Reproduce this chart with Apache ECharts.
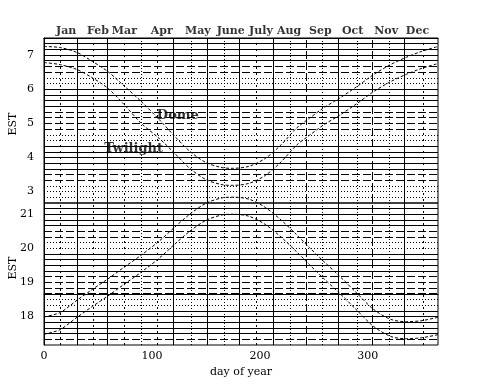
<!DOCTYPE html>
<html><head><meta charset="utf-8">
<script src="https://cdn.jsdelivr.net/npm/echarts@6/dist/echarts.min.js"></script>
<style>html,body{margin:0;padding:0;background:#fff}#c{width:480px;height:384px}</style>
</head><body><div id="c"></div>
<script>
// ---- data ----
const days = [0, 15, 31, 45, 59, 73, 90, 107, 121, 135, 150, 165, 175, 190, 205, 220, 234, 246, 259, 274, 290, 305, 321, 336, 350, 365];
// morning (EST hours)
const domeMorning = [7.25, 7.22, 7.07, 6.81, 6.52, 6.13, 5.64, 5.10, 4.62, 4.18, 3.85, 3.70, 3.68, 3.74, 3.97, 4.38, 4.86, 5.15, 5.45, 5.74, 6.08, 6.42, 6.72, 6.94, 7.11, 7.25];
const twilightMorning = [6.78, 6.72, 6.57, 6.33, 6.03, 5.59, 5.00, 4.55, 4.12, 3.68, 3.35, 3.20, 3.18, 3.24, 3.47, 3.88, 4.36, 4.65, 4.95, 5.24, 5.58, 5.92, 6.22, 6.44, 6.61, 6.75];
// evening (EST hours)
const twilightEvening = [17.99, 18.12, 18.49, 18.80, 19.10, 19.42, 19.80, 20.22, 20.62, 21.00, 21.32, 21.48, 21.50, 21.44, 21.20, 20.82, 20.40, 20.02, 19.62, 19.18, 18.68, 18.22, 17.92, 17.85, 17.88, 17.98];
const domeEvening = [17.48, 17.62, 17.99, 18.30, 18.60, 18.92, 19.30, 19.72, 20.12, 20.50, 20.82, 20.98, 21.00, 20.94, 20.70, 20.32, 19.90, 19.52, 19.12, 18.68, 18.18, 17.72, 17.42, 17.35, 17.38, 17.47];

const monthNames = ['Jan','Feb','Mar','Apr','May','June','July','Aug','Sep','Oct','Nov','Dec'];
const monthLabelDays = [20.5, 50, 74.5, 109, 142.5, 173, 201, 227, 256, 286, 317, 346];
const monthStartDays = [31, 59, 90, 120, 151, 181, 212, 243, 273, 304, 334];
const monthStartStyles = ['s','s','o','s','s','s','s','d','s','d','s'];
const midMonthDays = [15, 46, 74, 105, 136, 167, 197, 228, 258, 290, 320, 351];
const midMonthStyles = ['t','t','t','t','o','o','t','o','o','o','o','t'];
const morningTicks = [3, 4, 5, 6, 7];
const eveningTicks = [18, 19, 20, 21];
const dayTicks = [0, 100, 200, 300];
// horizontal 10-minute lines from 17:20 up to 21:20 (evening), then 2:50 up to 7:20 (morning)
// s=solid d=dashed o=dotted T=heavy
const hLineStyles = ('dsssssooddddssssooddssssT' + 'oooddsssssooddddssssooddssss').split('');

// ---- build ----
const EVE_MIN = 103/6, EVE_MAX = 157/6;
const MOR_MIN = -1.5, MOR_MAX = 7.5;
const FONT = 'DejaVu Serif';

function styleOf(c){
  if (c === 's') return {type:'solid', color:'#000', width:1};
  if (c === 'T') return {type:'solid', color:'#000', width:1.5};
  if (c === 'd') return {type:[8,3], color:'#000', width:1};
  if (c === 'o') return {type:[1,2], color:'#000', width:1};
  return {type:[2,4], color:'#000', width:1};
}
const hLines = [];
for (let k = 1; k <= hLineStyles.length; k++) {
  hLines.push({yAxis: EVE_MIN + k/6, lineStyle: styleOf(hLineStyles[k-1])});
}
const vLines = [];
monthStartDays.forEach((d,i)=>vLines.push({xAxis:d, lineStyle:styleOf(monthStartStyles[i])}));
midMonthDays.forEach((d,i)=>vLines.push({xAxis:d, lineStyle:styleOf(midMonthStyles[i])}));

const curveStyle = {color:'#000', width:1, type:[3,2]};
function pairs(ys){ return days.map((d,i)=>[d, ys[i]]); }

const chart = echarts.init(document.getElementById('c'), null, {renderer:'canvas'});
chart.setOption({
  animation:false,
  backgroundColor:'#fff',
  grid:{left:44, right:42, top:38, bottom:39, show:true, borderColor:'#000', borderWidth:1, backgroundColor:'transparent'},
  xAxis:[
    {type:'value', min:0, max:365, position:'bottom',
     axisLine:{show:true, lineStyle:{color:'#000'}},
     axisTick:{show:false},
     splitLine:{show:false},
     axisLabel:{customValues:dayTicks, color:'#000', fontFamily:FONT, fontSize:11, margin:6},
     name:'day of year', nameLocation:'middle', nameGap:19,
     nameTextStyle:{color:'#000', fontFamily:FONT, fontSize:11}},
    {type:'value', min:0, max:365, position:'top',
     axisLine:{show:true, lineStyle:{color:'#000'}}, axisTick:{show:false},
     splitLine:{show:false}, axisLabel:{show:false}}
  ],
  yAxis:[
    {type:'value', min:EVE_MIN, max:EVE_MAX, position:'left',
     axisLine:{show:true, lineStyle:{color:'#000'}}, axisTick:{show:false}, splitLine:{show:false},
     axisLabel:{customValues:eveningTicks, color:'#000', fontFamily:FONT, fontSize:11, margin:10}},
    {type:'value', min:MOR_MIN, max:MOR_MAX, position:'left',
     axisLine:{show:false}, axisTick:{show:false}, splitLine:{show:false},
     axisLabel:{customValues:morningTicks, color:'#000', fontFamily:FONT, fontSize:11, margin:10}}
  ],
  graphic:[
    {type:'text', x:13, y:124, rotation:Math.PI/2, style:{text:'EST', fill:'#000', font:'11px "DejaVu Serif"', textAlign:'center', textVerticalAlign:'middle'}},
    {type:'text', x:13, y:268, rotation:Math.PI/2, style:{text:'EST', fill:'#000', font:'11px "DejaVu Serif"', textAlign:'center', textVerticalAlign:'middle'}}
  ],
  series:[
    {type:'line', xAxisIndex:0, yAxisIndex:0, data:pairs(twilightEvening), smooth:0.3, symbol:'none', lineStyle:curveStyle, silent:true, z:3,
     markLine:{silent:true, symbol:'none', label:{show:false}, data:hLines.concat(vLines), z:1}},
    {type:'line', xAxisIndex:0, yAxisIndex:0, data:pairs(domeEvening), smooth:0.3, symbol:'none', lineStyle:curveStyle, silent:true, z:3},
    {type:'line', xAxisIndex:0, yAxisIndex:1, data:pairs(domeMorning), smooth:0.3, symbol:'none', lineStyle:curveStyle, silent:true, z:3},
    {type:'line', xAxisIndex:0, yAxisIndex:1, data:pairs(twilightMorning), smooth:0.3, symbol:'none', lineStyle:curveStyle, silent:true, z:3},
    {type:'scatter', xAxisIndex:1, yAxisIndex:1, symbolSize:0, silent:true,
     data:monthLabelDays.map((d,i)=>({value:[d, MOR_MAX], name:monthNames[i]})),
     label:{show:true, position:'top', distance:1, formatter:p=>p.name, color:'#000', fontFamily:FONT, fontSize:11, fontWeight:'bold'}},
    {type:'scatter', xAxisIndex:0, yAxisIndex:1, symbolSize:0, silent:true, z:5,
     data:[{value:[124, 5.22], name:'Dome'}, {value:[83, 4.25], name:'Twilight'}],
     label:{show:true, position:'inside', formatter:p=>p.name, color:'#000', fontFamily:FONT, fontSize:13, fontWeight:'bold'}}
  ]
});
</script></body></html>
